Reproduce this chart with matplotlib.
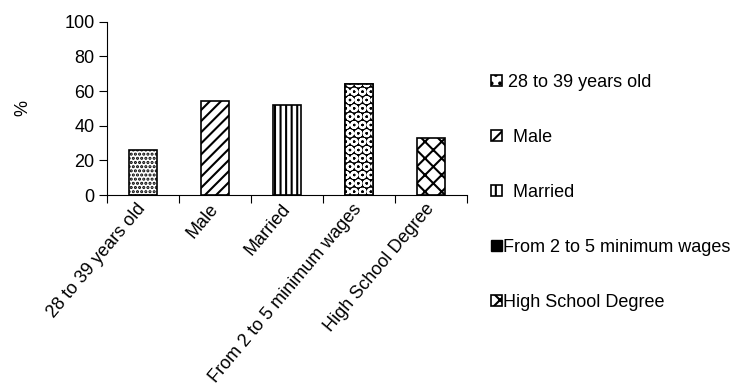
import matplotlib.pyplot as plt
from matplotlib.patches import Patch

plt.rcParams['font.family'] = ['Liberation Sans', 'DejaVu Sans']
plt.rcParams['hatch.linewidth'] = 1.5

categories = ["28 to 39 years old", "Male", "Married",
              "From 2 to 5 minimum wages", "High School Degree"]
values = [26, 54, 52, 64, 33]
hatches = ["....", "///", "|||", "OO", "xx"]
legend_labels = [" 28 to 39 years old", "  Male", "  Married",
                 "From 2 to 5 minimum wages", "High School Degree"]

fig = plt.figure(figsize=(7.33, 3.85), dpi=100)
ax = fig.add_axes([0.146, 0.4935, 0.491, 0.45])

x = list(range(len(categories)))
handles = []
for i, (v, h) in enumerate(zip(values, hatches)):
    if h == "OO":
        # dark fill with white circles on top
        ax.bar(i, v, width=0.39, color="black", edgecolor="black", lw=1.2, zorder=2)
        ax.bar(i, v, width=0.39, color="none", edgecolor="white", hatch=h, lw=0, zorder=3)
        ax.bar(i, v, width=0.39, color="none", edgecolor="black", lw=1.2, zorder=4)
        handles.append(Patch(facecolor="black", edgecolor="black", hatch="O"))
    else:
        ax.bar(i, v, width=0.39, color="white", edgecolor="black", hatch=h, lw=1.2, zorder=2)
        handles.append(Patch(facecolor="white", edgecolor="black", hatch=h[:2], lw=1.2))

ax.set_xlim(-0.5, len(categories) - 0.5)
ax.set_ylim(0, 100)
ax.set_yticks([0, 20, 40, 60, 80, 100])
ax.tick_params(axis="y", labelsize=13, length=6, direction="out", pad=3)
ax.set_xticks([i - 0.5 for i in range(len(categories) + 1)], minor=False)
ax.set_xticklabels([])
ax.set_xticks(x, minor=True)
ax.set_xticklabels(categories, minor=True, rotation=50, ha="right", va="center",
                   rotation_mode="anchor", fontsize=13)
ax.tick_params(axis="x", which="major", length=6, direction="out")
ax.tick_params(axis="x", which="minor", length=0, pad=8)
for s in ["top", "right"]:
    ax.spines[s].set_visible(False)
ax.set_ylabel("%", fontsize=13, labelpad=24)

fig.legend(handles, legend_labels, loc="upper left", bbox_to_anchor=(0.648, 0.85),
           frameon=False, fontsize=13, handlelength=0.6, handleheight=0.6,
           handletextpad=0.05, labelspacing=2.1)

fig.savefig("out.png", dpi=100)
